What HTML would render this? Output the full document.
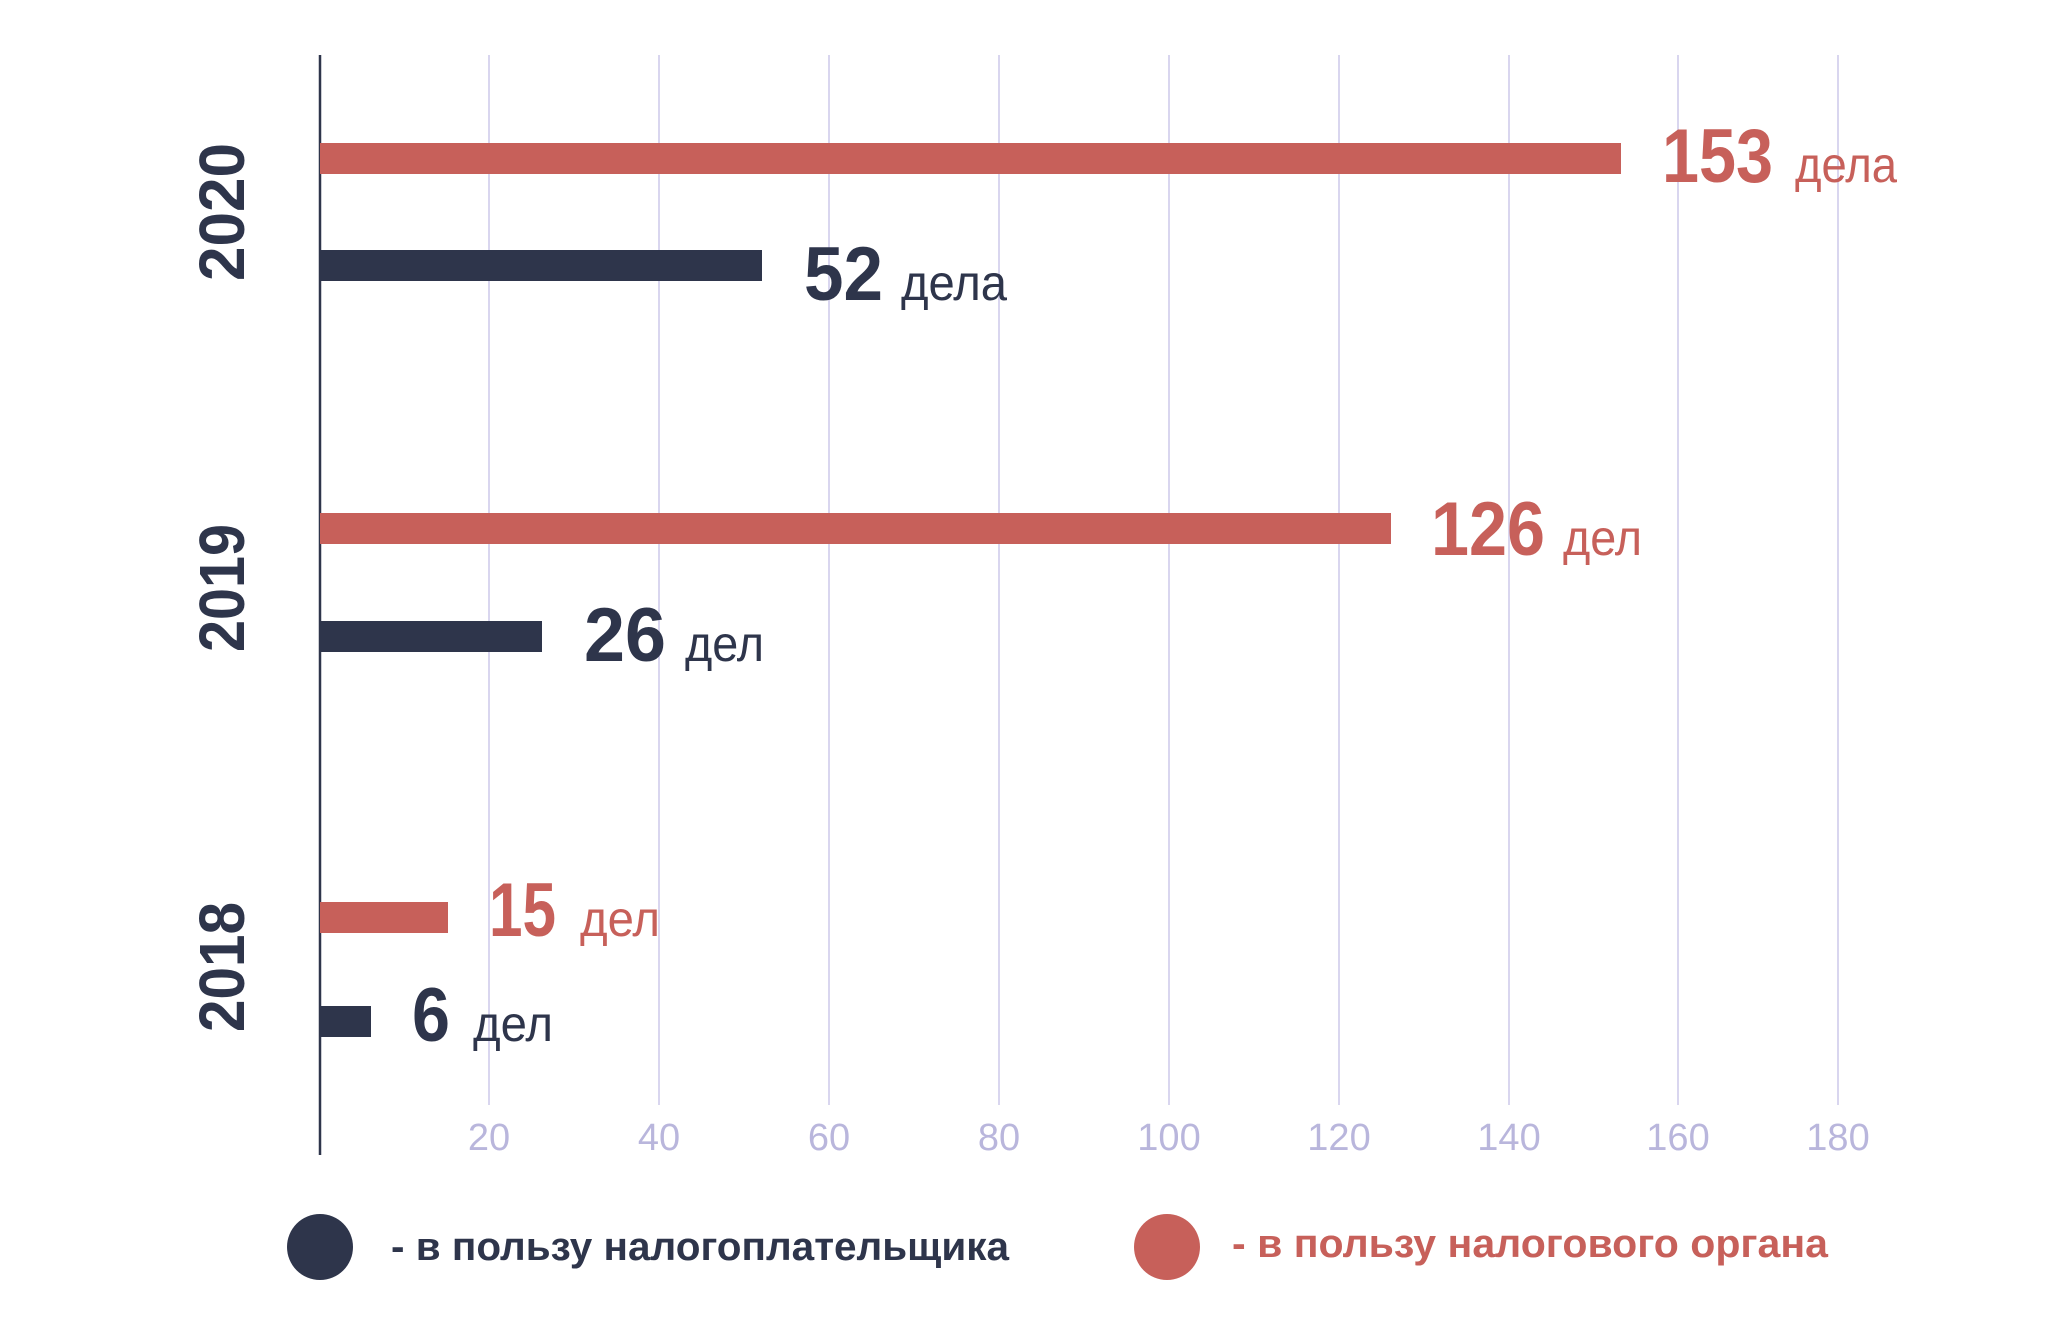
<!DOCTYPE html>
<html><head><meta charset="utf-8"><style>
html,body{margin:0;padding:0;background:#fff;}
svg{display:block;}
text{font-family:"Liberation Sans",sans-serif;}
</style></head><body>
<svg width="2056" height="1317" viewBox="0 0 2056 1317" xmlns="http://www.w3.org/2000/svg">
<g stroke="#d9d6ef" stroke-width="2">
<line x1="489" y1="55" x2="489" y2="1105"/>
<line x1="659" y1="55" x2="659" y2="1105"/>
<line x1="829" y1="55" x2="829" y2="1105"/>
<line x1="999" y1="55" x2="999" y2="1105"/>
<line x1="1169" y1="55" x2="1169" y2="1105"/>
<line x1="1339" y1="55" x2="1339" y2="1105"/>
<line x1="1509" y1="55" x2="1509" y2="1105"/>
<line x1="1678" y1="55" x2="1678" y2="1105"/>
<line x1="1838" y1="55" x2="1838" y2="1105"/>
</g>
<g fill="#b9b6dc" font-size="38" text-anchor="middle">
<text x="489" y="1150">20</text><text x="659" y="1150">40</text><text x="829" y="1150">60</text>
<text x="999" y="1150">80</text><text x="1169" y="1150">100</text><text x="1339" y="1150">120</text>
<text x="1509" y="1150">140</text><text x="1678" y="1150">160</text><text x="1838" y="1150">180</text>
</g>
<line x1="320" y1="55" x2="320" y2="1155" stroke="#2e354b" stroke-width="2.5"/>
<g fill="#c7605a">
<rect x="320" y="143" width="1301" height="31"/>
<rect x="320" y="513" width="1071" height="31"/>
<rect x="320" y="902" width="128" height="31"/>
</g>
<g fill="#2e354b">
<rect x="320" y="250" width="442" height="31"/>
<rect x="320" y="621" width="222" height="31"/>
<rect x="320" y="1006" width="51" height="31"/>
</g>
<g fill="#c7605a">
<text x="1662" y="182" font-size="76" font-weight="bold" textLength="111" lengthAdjust="spacingAndGlyphs">153</text>
<text x="1795" y="182" font-size="50" textLength="102" lengthAdjust="spacingAndGlyphs">дела</text>
<text x="1431" y="555" font-size="76" font-weight="bold" textLength="114" lengthAdjust="spacingAndGlyphs">126</text>
<text x="1563" y="555" font-size="50" textLength="79" lengthAdjust="spacingAndGlyphs">дел</text>
<text x="489" y="936" font-size="76" font-weight="bold" textLength="67" lengthAdjust="spacingAndGlyphs">15</text>
<text x="580" y="936" font-size="50" textLength="80" lengthAdjust="spacingAndGlyphs">дел</text>
</g>
<g fill="#2e354b">
<text x="804" y="300" font-size="76" font-weight="bold" textLength="79" lengthAdjust="spacingAndGlyphs">52</text>
<text x="901" y="300" font-size="50" textLength="106" lengthAdjust="spacingAndGlyphs">дела</text>
<text x="584" y="661" font-size="76" font-weight="bold" textLength="82" lengthAdjust="spacingAndGlyphs">26</text>
<text x="685" y="661" font-size="50" textLength="79" lengthAdjust="spacingAndGlyphs">дел</text>
<text x="412" y="1041" font-size="76" font-weight="bold" textLength="38" lengthAdjust="spacingAndGlyphs">6</text>
<text x="473" y="1041" font-size="50" textLength="80" lengthAdjust="spacingAndGlyphs">дел</text>
</g>
<g fill="#2e354b" font-size="64" font-weight="bold" text-anchor="middle">
<text transform="translate(244 212) rotate(-90)" textLength="138" lengthAdjust="spacingAndGlyphs">2020</text>
<text transform="translate(244 588) rotate(-90)" textLength="128" lengthAdjust="spacingAndGlyphs">2019</text>
<text transform="translate(244 967) rotate(-90)" textLength="130" lengthAdjust="spacingAndGlyphs">2018</text>
</g>
<circle cx="320" cy="1247" r="33" fill="#2e354b"/>
<circle cx="1167" cy="1247" r="33" fill="#c7605a"/>
<text x="391" y="1260" font-size="40" font-weight="bold" fill="#2e354b" textLength="618" lengthAdjust="spacingAndGlyphs">- в пользу налогоплательщика</text>
<text x="1232" y="1257" font-size="40" font-weight="bold" fill="#c7605a" textLength="596" lengthAdjust="spacingAndGlyphs">- в пользу налогового органа</text>
</svg>
</body></html>
